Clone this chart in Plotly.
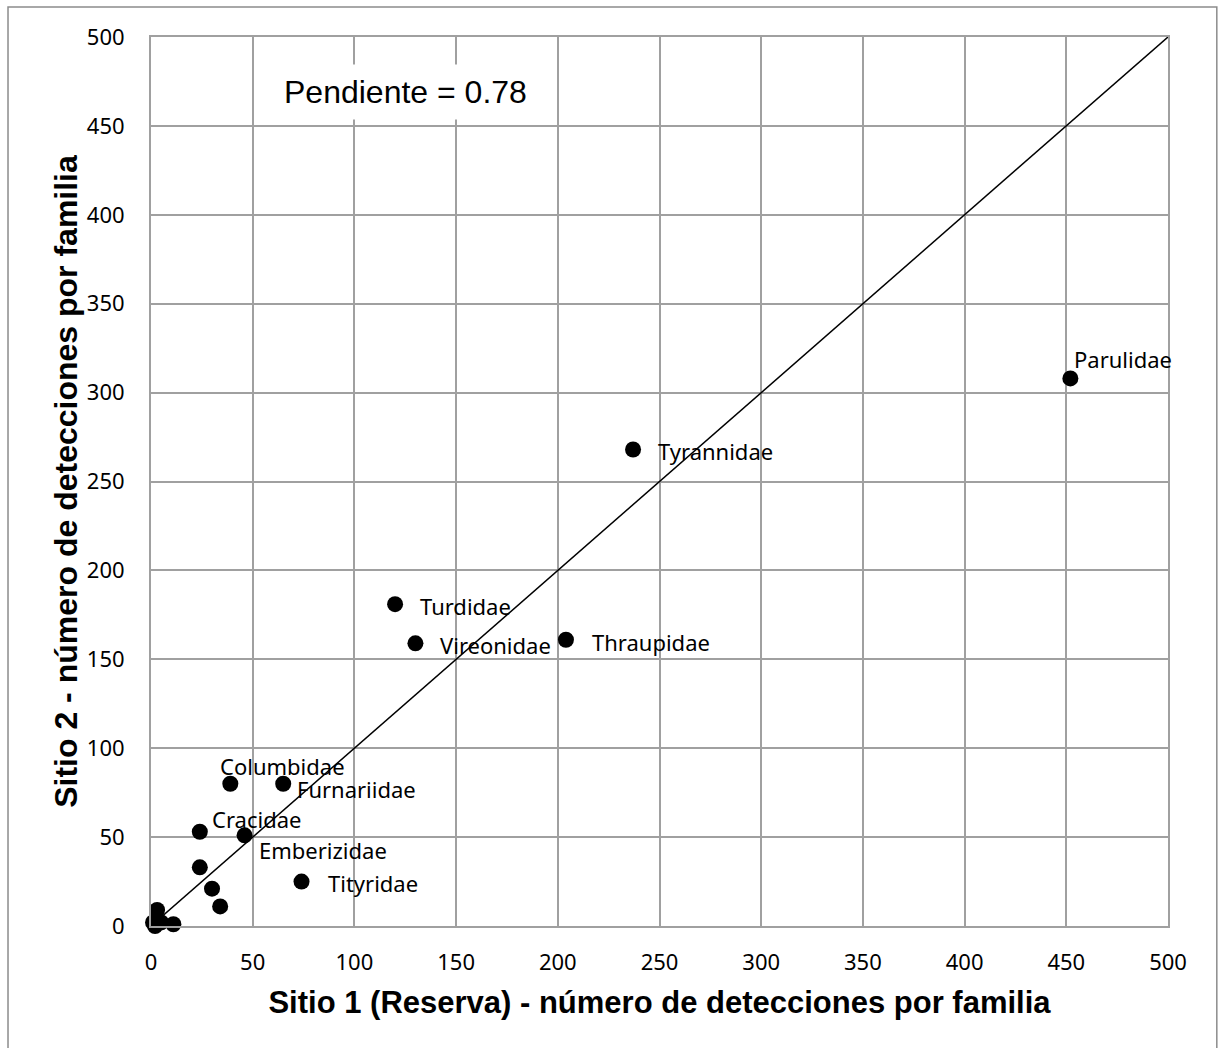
import plotly.graph_objects as go

# Detections per bird family at the two sites
families = ["Parulidae", "Tyrannidae", "Turdidae", "Vireonidae", "Thraupidae",
            "Columbidae", "Furnariidae", "Cracidae", "Emberizidae", "Tityridae",
            "", "", "", "", "", "", "", ""]
sitio1 = [452, 237, 120, 130, 204, 39, 65, 24, 46, 74, 24, 30, 34, 3, 1, 5, 11, 2]
sitio2 = [308, 268, 181, 159, 161, 80, 80, 53, 51, 25, 33, 21, 11, 9, 2, 2, 1, 0]

# Label offsets (pixels) relative to each point
label_dx = [2, 23, 23, 23, 24, -12, 12, 10, 12, 24]
label_dy = [19, -1, -2, -2, -2, 18, -5, 13, -15, -1]

ref_line = [0, 500]
ticks = list(range(0, 501, 50))

fig = go.Figure()

fig.add_trace(go.Scatter(x=ref_line, y=ref_line, mode="lines",
                         line=dict(color="black", width=1.5),
                         hoverinfo="skip", showlegend=False))

fig.add_trace(go.Scatter(x=sitio1, y=sitio2, mode="markers",
                         marker=dict(color="black", size=16),
                         text=families, showlegend=False,
                         cliponaxis=False))

label_font = dict(family="Noto Sans, DejaVu Sans, sans-serif", size=22, color="black")
for name, x, y, dx, dy in zip(families, sitio1, sitio2, label_dx, label_dy):
    if not name:
        continue
    fig.add_annotation(x=x, y=y, text=name, showarrow=False,
                       xanchor="left", yanchor="middle",
                       xshift=dx, yshift=dy, font=label_font)

fig.add_annotation(x=0.2498, y=0.9376, xref="paper", yref="paper",
                   xanchor="center", yanchor="middle",
                   text="Pendiente = 0.78", showarrow=False,
                   bgcolor="white", borderpad=9,
                   font=dict(family="Liberation Sans, Arial, sans-serif", size=32, color="black"))

# outer chart border
fig.add_shape(type="rect", xref="paper", yref="paper",
              x0=-0.1406, x1=1.048, y0=-0.16, y1=1.0337,
              line=dict(color="#8c8c8c", width=1.5), fillcolor="rgba(0,0,0,0)")

tick_font = dict(family="Noto Sans, DejaVu Sans, sans-serif", size=22, color="black")
axis_common = dict(range=[0, 500], tickvals=ticks, showgrid=True,
                   gridcolor="#a0a0a0", gridwidth=2, zeroline=False,
                   showline=True, linecolor="#a0a0a0", linewidth=2, mirror=True,
                   ticks="", tickfont=tick_font)

fig.update_xaxes(**axis_common, ticklabelstandoff=16,
                 title=dict(text="<b>Sitio 1 (Reserva) - número de detecciones por familia</b>",
                            font=dict(family="Liberation Sans, Arial, sans-serif", size=31,
                                      color="black"), standoff=16))
fig.update_yaxes(**axis_common, ticklabelstandoff=20,
                 title=dict(text="<b>Sitio 2 - número de detecciones por familia</b>",
                            font=dict(family="Liberation Sans, Arial, sans-serif",
                                      size=32, color="black"), standoff=0))

fig.update_layout(width=1218, height=1048,
                  margin=dict(l=151, r=50, t=37, b=122),
                  plot_bgcolor="white", paper_bgcolor="white")

fig.write_html("out.html")
